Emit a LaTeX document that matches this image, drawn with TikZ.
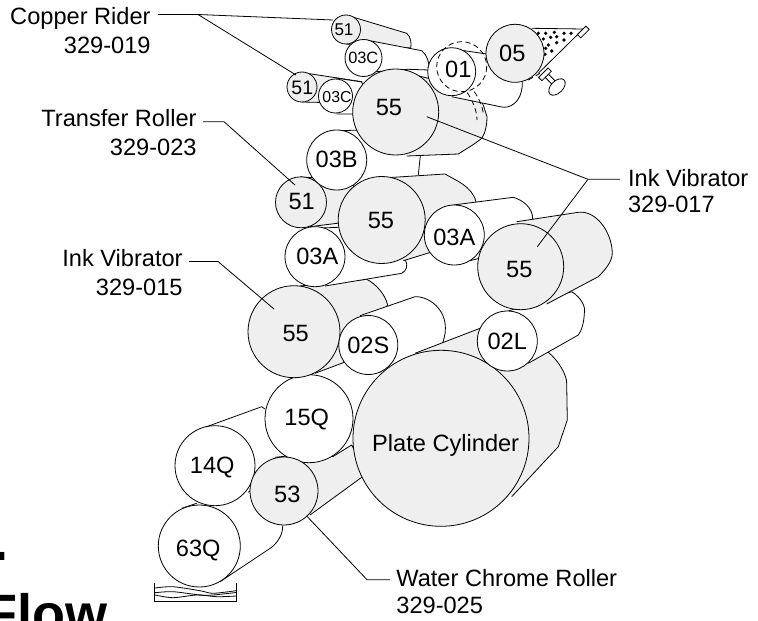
\documentclass[tikz,border=0pt]{standalone}
\usepackage{fontspec}
\setmainfont{Liberation Sans}
\usepackage{tikz}
\usetikzlibrary{shapes.geometric}
\definecolor{rollergray}{HTML}{EFEFEF}
\tikzset{
  grayroll/.style={circle, draw, fill=rollergray, inner sep=0pt, minimum size=#1*1.5pt},
  whiteroll/.style={circle, draw, fill=white, inner sep=0pt, minimum size=#1*1.5pt},
  graybody/.style={draw, fill=rollergray},
  whitebody/.style={draw, fill=white},
  rollnum/.style={inner sep=0pt, font=\fontsize{17.7}{20}\selectfont},
  partname/.style={inner sep=0pt, anchor=base east, font=\fontsize{17.7}{20}\selectfont},
  partnameleft/.style={inner sep=0pt, anchor=base west, font=\fontsize{17.7}{20}\selectfont},
  bigtitle/.style={inner sep=0pt, anchor=base west, font=\fontsize{40.5}{44}\selectfont\bfseries}
}
\begin{document}
\begin{tikzpicture}[x=0.75pt, y=-0.75pt, line width=0.6pt]
\useasboundingbox (0,0) rectangle (758,621);
\clip (0,0) rectangle (758,621);
% cut off title
\node[bigtitle] (titledot) at (-7.3,560) {.};
\node[bigtitle] (titleflow) at (-16.3,632) {Flow};
% top riders
\draw[graybody] (351.7,16.7)--(406.7,33.3) .. controls (411,37) and (411.5,43) .. (410.7,48)--(346,44);
\draw[whitebody] (363.5,39.5)--(421.7,50.7) .. controls (427,55) and (429.5,62) .. (429,70)--(408,69.3)--(372,72);
\node[grayroll=14.5] (riderA) at (346,29.5) {};
\node[whiteroll=18.5] (threeCa) at (363.5,58) {};
%
\draw[graybody] (303,72.7)--(361.7,81.7)--(345,103)--(302,102);
\draw[whitebody] (335.7,78)--(361.7,82)--(372,110)--(352.3,114)--(336.7,114);
\node[grayroll=15] (riderB) at (302,87) {};
\node[whiteroll=17] (threeCb) at (335.5,96) {};
% 03B body
\draw (333,131)--(360,130);
\draw (420.3,156)--(418.3,175);
% upper vibrator and 01
\draw[graybody] (395,70)--(475,90)--(483.3,105)--(487,116.7) .. controls (487,128) and (484,135) .. (481.7,138.3) .. controls (475,144) and (466,149) .. (458.3,154)--(406.7,156);
\draw[whitebody] (448.3,48.3)--(490,54.5)--(510,70)--(522.3,81) .. controls (523,97) and (515,107.5) .. (503.3,107.3)--(451.7,96.7);
\draw[dashed, dash pattern=on 4pt off 2.5pt] (467.3,92.7) .. controls (472,100) and (477,110) .. (477,120);
\draw[dashed, dash pattern=on 4pt off 2.5pt] (474.3,91.7) .. controls (478,97) and (483,106) .. (483.3,115);
\node[grayroll=43] (vibA) at (395.7,112) {};
\node[whiteroll=24] (oneroll) at (451.7,71.7) {};
\draw[dashed, dash pattern=on 4pt off 2.5pt] (461.7,66.7) circle (25);
% hopper
\draw[fill=white] (531.7,28.3)--(583.3,29)--(538.3,73.3);
\foreach \dotx/\doty in {538.3/33.3, 545.7/33.3, 554.3/32.3, 564/33.3, 571/33.3, 543.3/39, 550.7/37.3, 556.7/36.7, 564/40, 548.3/45, 556.7/42.7, 545.7/48.3, 551.7/51, 545/54.3}
  \fill (\dotx,\doty) circle (1.8);
\node[draw, fill=white, rotate=45, inner sep=0pt, minimum width=9pt, minimum height=3.5pt] (hoppertip) at (583.3,32) {};
\node[draw, fill=white, rotate=-45, inner sep=0pt, minimum width=9pt, minimum height=3.5pt] (screwstem) at (551,80) {};
\node[draw, fill=white, rotate=45, inner sep=0pt, minimum width=10pt, minimum height=3.5pt] (screwplate) at (545,74.3) {};
\node[draw, ellipse, fill=white, rotate=45, inner sep=0pt, minimum width=15pt, minimum height=9pt] (screwknob) at (557,87) {};
\node[grayroll=29] (fiveroll) at (515,53.3) {};
\draw[dashed, dash pattern=on 4pt off 2.5pt] (528.3,80)--(540,73.3);
% middle stack, back to front
\draw[graybody] (300,286)--(366.7,279.3) .. controls (376,284) and (385,294) .. (387.7,305)--(375,320)--(343.3,362.7)--(315,373.3);
\draw[whitebody] (322,228)--(390,225)--(405.7,260.7) .. controls (408,265) and (406.7,271) .. (401.7,273.3)--(325,286);
\draw[graybody] (301,177)--(350,180)--(365,205)--(337.3,223.3)--(310,226.7);
\node[whiteroll=30] (threeB) at (336.7,160) {};
\node[grayroll=25.5] (transfer) at (301,202.3) {};
\draw[graybody] (378,178.3)--(445,174) .. controls (455,180) and (472,186) .. (476,201.7)--(470,215)--(432.7,251.7)--(403.3,260.7);
\node[grayroll=43.5] (vibB) at (381.7,220) {};
\draw[whitebody] (453.3,205)--(513.3,197.3) .. controls (522,200) and (533,207) .. (532.7,219.3)--(479.3,258.3)--(470,260.7);
\node[whiteroll=30] (threeAa) at (454.3,235) {};
\node[whiteroll=30] (threeAb) at (315,256.7) {};
\draw[whitebody] (360,315.7)--(415,296.7) .. controls (430,296) and (454,313) .. (442.3,344)--(410,362);
% plate and water rollers
\draw[graybody] (415,353.3)--(480,328.3)--(548.3,352.3) .. controls (558,360) and (567,375) .. (566.7,383.3)--(567.3,420)--(558.3,446.7)--(511.7,496.7);
\draw[graybody] (275,457.3)--(290,455.7)--(333,456.5)--(351.7,445)--(365,470)--(361.7,477.3)--(310,515);
\draw (205,427.3)--(261.7,406.7)--(265,409);
\draw (248.3,492.3)--(251.5,489.5);
\node[whiteroll=40] (fourteenQ) at (215,465.7) {};
\node[whiteroll=44] (fifteenQ) at (309,418.7) {};
\node[grayroll=88] (plate) at (441,438.3) {};
\node[grayroll=46] (vibC) at (294,331.7) {};
\node[whiteroll=29.5] (twoS) at (368.3,345) {};
% right hand side
\draw[whitebody] (505,312)--(571.7,291.7) .. controls (582,298) and (586,308) .. (584.3,313.3) .. controls (584,322) and (582,330) .. (578.3,335)--(528.3,363.3);
\node[whiteroll=30] (twoL) at (507.3,341) {};
\draw[graybody] (516.7,221.7)--(578.3,212.3) .. controls (596,210) and (612,232) .. (612.3,253.3) .. controls (612,262) and (605,270) .. (598.3,276.7)--(546.7,304);
\node[grayroll=43] (vibD) at (520.7,266.7) {};
% tray
\draw (154,582.7)--(154,601)--(236.7,601)--(236.7,582.7);
\draw plot[smooth] coordinates {(155,588) (173,586.7) (200,590.7) (213,593.3) (236,590.7)};
\draw plot[smooth] coordinates {(155,592.7) (173,591.7) (200,595) (213,595) (236,592.5)};
\draw plot[smooth] coordinates {(155,595) (173,597.7) (197,595) (217,596.7) (236,596)};
\draw (181.7,508.3)--(196.7,503.3);
\draw (220,581.7)--(271.7,547.3) .. controls (279,541) and (282.7,534) .. (282.7,525.7);
\node[whiteroll=41] (waterpan) at (199.3,546) {};
\node[grayroll=34] (chrome) at (284,491) {};
% roller numbers
\node[rollnum, font=\fontsize{12.8}{14}\selectfont] (numriderA) at (344,30) {51};
\node[rollnum, font=\fontsize{12.3}{14}\selectfont] (numthreeCa) at (363.3,57.7) {03C};
\node[rollnum, font=\fontsize{14.6}{16}\selectfont] (numriderB) at (302.3,87.7) {51};
\node[rollnum, font=\fontsize{11.9}{14}\selectfont] (numthreeCb) at (337,97.3) {03C};
\node[rollnum] (numvibA) at (389,107.7) {55};
\node[rollnum] (numoneroll) at (458.3,69.3) {01};
\node[rollnum] (numfiveroll) at (512.3,53.3) {05};
\node[rollnum] (numthreeB) at (336.7,159) {03B};
\node[rollnum] (numtransfer) at (301.7,201.7) {51};
\node[rollnum] (numvibB) at (381,220) {55};
\node[rollnum] (numthreeAa) at (454.3,237.7) {03A};
\node[rollnum] (numthreeAb) at (317.3,256) {03A};
\node[rollnum] (numvibD) at (519.3,269.3) {55};
\node[rollnum] (numvibC) at (295.7,333.3) {55};
\node[rollnum] (numtwoS) at (368.3,345.7) {02S};
\node[rollnum] (numtwoL) at (507.3,341) {02L};
\node[rollnum] (numfifteenQ) at (306.7,419) {15Q};
\node[rollnum] (numfourteenQ) at (212.3,467.3) {14Q};
\node[rollnum] (numchrome) at (287.3,494.3) {53};
\node[rollnum] (numwaterpan) at (198.3,550.7) {63Q};
\node[rollnum] (numplate) at (445.7,445.3) {Plate Cylinder};
% part names
\node[partname] (copper) at (151,25) {Copper Rider};
\node[partname] (copperno) at (151,53) {329-019};
\node[partname] (transfername) at (197,126.7) {Transfer Roller};
\node[partname] (transferno) at (197,155) {329-023};
\node[partname] (inkC) at (183,266.7) {Ink Vibrator};
\node[partname] (inkCno) at (183,295) {329-015};
\node[partnameleft] (inkA) at (627.7,186) {Ink Vibrator};
\node[partnameleft] (inkAno) at (627.7,212.7) {329-017};
\node[partnameleft] (chromename) at (396,586) {Water Chrome Roller};
\node[partnameleft] (chromeno) at (396,613) {329-025};
% leaders
\coordinate (copperstart) at (158,14.5);
\coordinate (copperbend) at (198,14.5);
\coordinate (copperendA) at (333,20);
\coordinate (copperendB) at (296,75);
\draw (copperstart)--(copperbend)--(copperendA);
\draw (copperbend)--(copperendB);
\coordinate (transferstart) at (203,121.7);
\coordinate (transferbend) at (224,121.7);
\coordinate (transferend) at (295,185);
\draw (transferstart)--(transferbend)--(transferend);
\coordinate (inkCstart) at (189,261.5);
\coordinate (inkCbend) at (218,261.5);
\coordinate (inkCend) at (274,309);
\draw (inkCstart)--(inkCbend)--(inkCend);
\coordinate (inkAstart) at (620,179.3);
\coordinate (inkAbend) at (588,179.3);
\coordinate (inkAendA) at (426.7,116.7);
\coordinate (inkAendB) at (537.3,246.7);
\draw (inkAstart)--(inkAbend)--(inkAendA);
\draw (inkAbend)--(inkAendB);
\coordinate (chromestart) at (390,579.7);
\coordinate (chromebend) at (367,579.7);
\coordinate (chromeend) at (306.7,516);
\draw (chromestart)--(chromebend)--(chromeend);
\end{tikzpicture}
\end{document}
